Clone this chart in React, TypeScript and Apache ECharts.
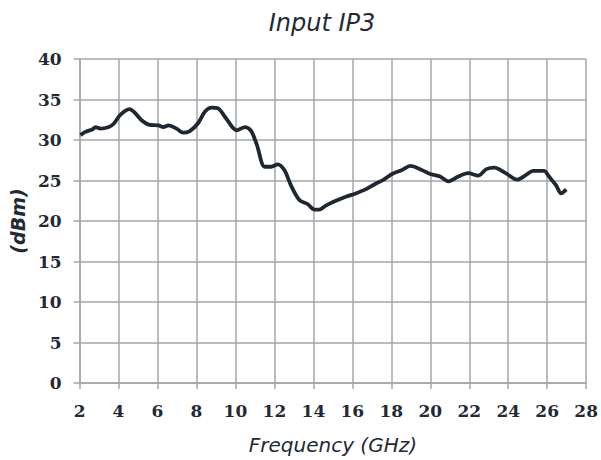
import React, { useEffect, useRef } from "react";
import * as echarts from "echarts";

// Input IP3 vs frequency
const freqGHz = [
  2.05, 2.3, 2.65, 2.82, 3.07, 3.5, 3.75, 4.09, 4.57, 4.86, 5.2, 5.54, 6.05, 6.3, 6.56, 6.98,
  7.32, 7.66, 8.09, 8.43, 8.77, 9.11, 9.45, 9.87, 10.05, 10.5, 10.81, 11.1, 11.5, 11.83, 12.17,
  12.51, 12.85, 13.28, 13.7, 14.05, 14.3, 14.64, 15.15, 15.66, 16.17, 16.68, 17.19, 17.61,
  18.04, 18.55, 18.97, 19.48, 19.99, 20.5, 20.93, 21.44, 21.95, 22.46, 22.88, 23.3, 23.81,
  24.46, 24.92, 25.27, 25.86, 26.03, 26.29, 26.46, 26.71, 26.98,
];
const ip3dBm = [
  30.6, 31.0, 31.3, 31.6, 31.4, 31.6, 32.0, 33.1, 33.8, 33.3, 32.4, 31.9, 31.8, 31.6, 31.8, 31.4,
  30.9, 31.1, 32.1, 33.5, 34.0, 33.9, 32.9, 31.5, 31.2, 31.6, 31.1, 29.4, 26.7, 26.7, 27.0,
  26.3, 24.4, 22.6, 22.1, 21.4, 21.4, 21.9, 22.5, 23.0, 23.4, 23.9, 24.6, 25.1,
  25.8, 26.3, 26.8, 26.4, 25.8, 25.5, 24.9, 25.5, 25.9, 25.6, 26.4, 26.6, 26.0,
  25.1, 25.7, 26.2, 26.2, 25.7, 24.9, 24.4, 23.4, 23.9,
];

const xMin = 2;
const xMax = 28;
const xStep = 2;
const yMin = 0;
const yMax = 40;
const yStep = 5;

export default function App() {
  const ref = useRef<HTMLDivElement>(null);

  useEffect(() => {
    if (!ref.current) return;
    const chart = echarts.init(ref.current, null, { renderer: "svg" });
    const gridColor = "#a6a6ab";
    const textColor = "#232a35";
    const sans = "DejaVu Sans";
    const labelFont = {
      fontFamily: "DejaVu Serif",
      fontWeight: "bold" as const,
      fontSize: 17,
      color: textColor,
    };
    chart.setOption({
      animation: false,
      backgroundColor: "#ffffff",
      title: {
        text: "Input IP3",
        left: 317,
        top: 6,
        textAlign: "center",
        textStyle: {
          fontFamily: sans,
          fontStyle: "italic",
          fontWeight: "normal",
          fontSize: 24,
          color: textColor,
        },
      },
      grid: { left: 79, right: 12, top: 59, bottom: 77 },
      xAxis: {
        type: "value",
        min: xMin,
        max: xMax,
        interval: xStep,
        name: "Frequency (GHz)",
        nameLocation: "middle",
        nameGap: 52,
        nameTextStyle: {
          fontFamily: sans,
          fontStyle: "italic",
          fontSize: 20,
          color: textColor,
        },
        axisLine: { show: true, lineStyle: { color: gridColor, width: 1.5 } },
        axisTick: { show: true, length: 6, lineStyle: { color: gridColor, width: 1.5 } },
        axisLabel: { ...labelFont, margin: 19 },
        splitLine: { show: true, lineStyle: { color: gridColor, width: 1.5 } },
      },
      yAxis: {
        type: "value",
        min: yMin,
        max: yMax,
        interval: yStep,
        name: "(dBm)",
        nameLocation: "middle",
        nameGap: 50,
        nameTextStyle: {
          fontFamily: sans,
          fontStyle: "italic",
          fontWeight: "bold",
          fontSize: 19,
          color: textColor,
        },
        axisLine: { show: true, lineStyle: { color: gridColor, width: 1.5 } },
        axisTick: { show: true, length: 6, lineStyle: { color: gridColor, width: 1.5 } },
        axisLabel: { ...labelFont, margin: 18 },
        splitLine: { show: true, lineStyle: { color: gridColor, width: 1.5 } },
      },
      series: [
        {
          type: "line",
          data: freqGHz.map((f, i) => [f, ip3dBm[i]]),
          smooth: 0.3,
          showSymbol: false,
          lineStyle: { color: "#1f2733", width: 3.8 },
        },
      ],
    });
    return () => chart.dispose();
  }, []);

  return (
    <div
      ref={ref}
      style={{ position: "fixed", left: 0, top: 0, width: 601, height: 460 }}
    />
  );
}
